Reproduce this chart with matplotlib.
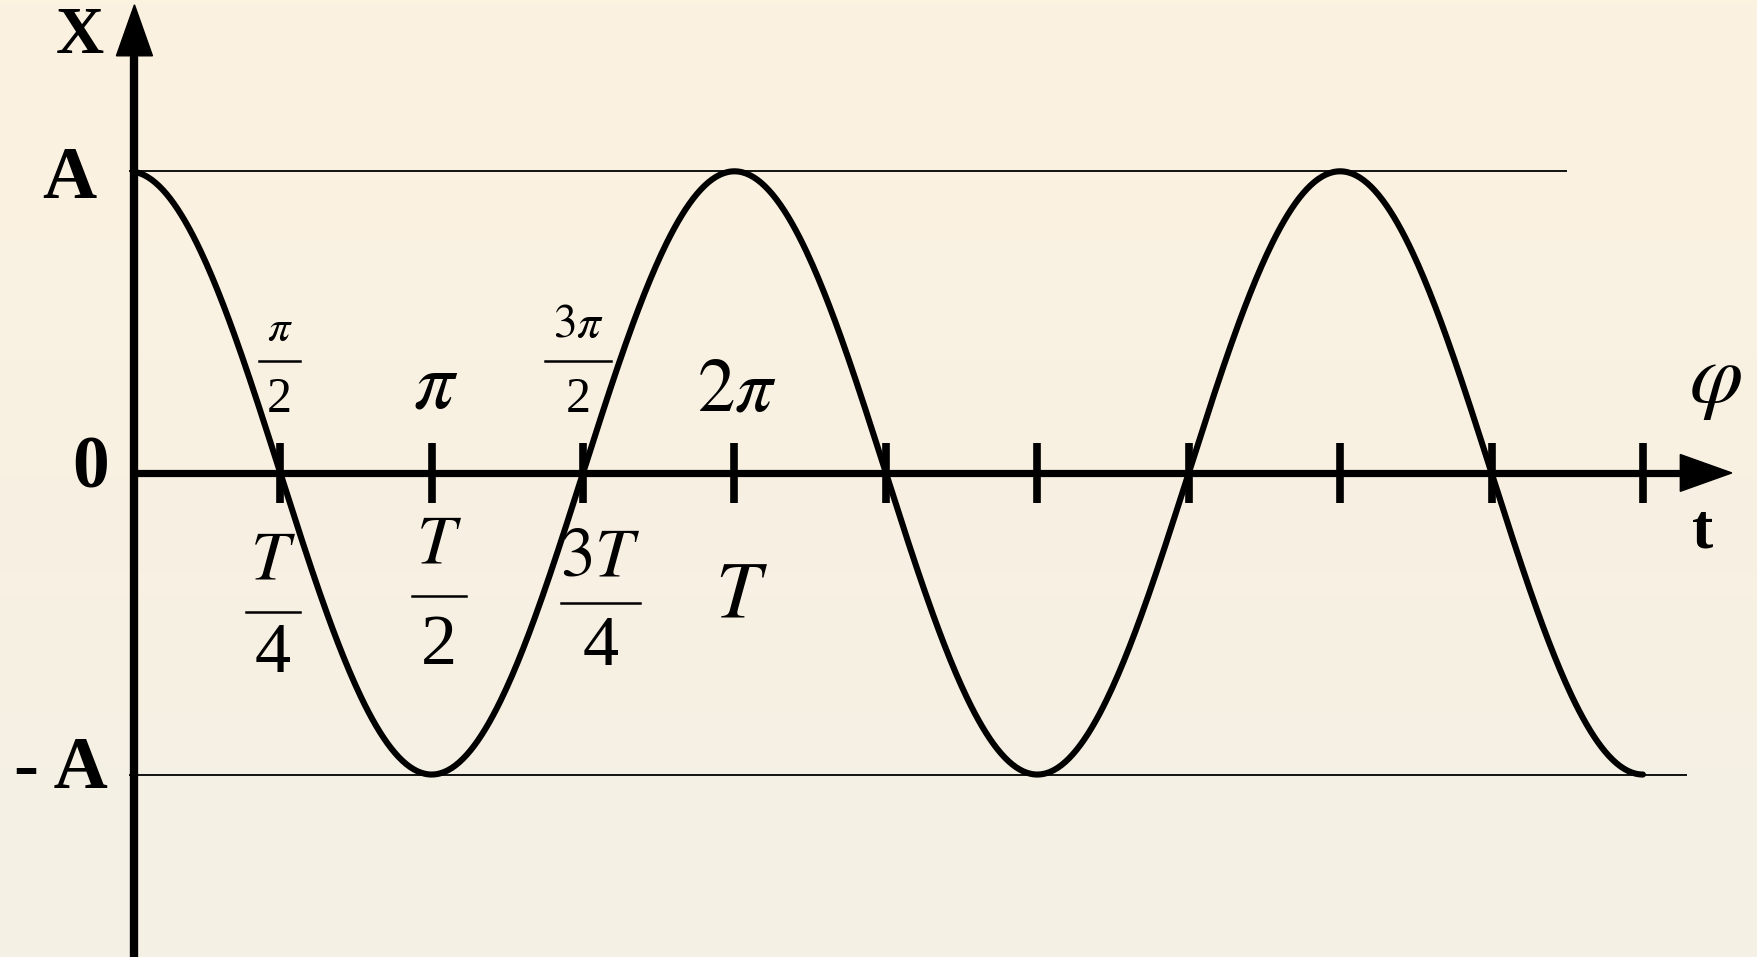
import numpy as np
import matplotlib.pyplot as plt
import matplotlib

matplotlib.rcParams['mathtext.fontset'] = 'stix'
matplotlib.rcParams['font.family'] = ['Liberation Serif', 'DejaVu Serif']

# data: x = A cos(phi), phase measured in quarter periods
amplitude = 1.0
n_quarters = 10                       # curve runs 2.5 periods
tick_quarters = np.arange(1, 11)      # tick marks on the t axis
phase_num = [r'$\pi$', r'$\pi$', r'$3\pi$', r'$2\pi$']
phase_den = ['2', None, '2', None]
time_num = [r'$T$', r'$T$', r'$3T$', r'$T$']
time_den = ['4', '2', '4', None]

# layout
x_lo, x_hi = -0.888, 10.723
y_lo, y_hi = -1.605, 1.568
shift = 0.037   # phase origin sits a hair left of the x axis line

fig = plt.figure(figsize=(17.58, 9.57), dpi=100)
ax = fig.add_axes([0, 0, 1, 1])
ax.set_xlim(x_lo, x_hi)
ax.set_ylim(y_lo, y_hi)
ax.axis('off')

# background gradient
grad = np.linspace(0, 1, 256).reshape(-1, 1)
top = np.array([252, 242, 224]) / 255
bot = np.array([244, 240, 229]) / 255
img = top + (bot - top) * grad[:, :, None]
ax.imshow(img, extent=[x_lo, x_hi, y_lo, y_hi], aspect='auto', zorder=0)

# amplitude guide lines
ax.plot([-0.03, 9.455], [amplitude, amplitude], color='#111111', lw=1.4, zorder=1)
ax.plot([-0.03, 10.25], [-amplitude, -amplitude], color='#111111', lw=1.4, zorder=1)

# axes
ax.plot([0, 0], [y_lo, 1.40], color='black', lw=6, solid_capstyle='butt', zorder=3)
ax.fill([-0.119, 0.119, 0], [1.383, 1.383, 1.552], color='black', zorder=3)
ax.plot([-0.02, 10.25], [0, 0], color='black', lw=5.2, solid_capstyle='butt', zorder=3)
ax.fill([10.21, 10.21, 10.55], [-0.061, 0.061, 0], color='black', zorder=3)
for q in tick_quarters:
    ax.plot([q - shift, q - shift], [-0.1, 0.1], color='black', lw=5.5,
            solid_capstyle='butt', zorder=3)

# the cosine curve
phase = np.linspace(shift, n_quarters, 800)
ax.plot(phase - shift, amplitude * np.cos(phase * np.pi / 2), color='black', lw=4.4,
        solid_capstyle='round', zorder=4)

# axis labels
ax.text(-0.36, 1.446, 'X', fontsize=48, fontweight='bold', ha='center', va='center')
ax.text(-0.433, 0.972, 'A', fontsize=54, fontweight='bold', ha='center', va='center')
ax.text(-0.175, -0.985, '- A', fontsize=54, fontweight='bold', ha='right', va='center')
ax.text(-0.29, 0.01, '0', fontsize=53, fontweight='bold', ha='center', va='center')
ax.text(10.36, -0.196, 't', fontsize=46, fontweight='bold', ha='center', va='center')
ax.text(10.44, 0.30, r'$\varphi$', fontsize=62, ha='center', va='center')


def frac(x, y_num, y_bar, y_den, num, den, size_num, size_den, half):
    ax.text(x, y_num, num, fontsize=size_num, ha='center', va='center')
    ax.text(x, y_den, den, fontsize=size_den, ha='center', va='center')
    ax.plot([x - half, x + half], [y_bar, y_bar], color='black', lw=1.8)


# phase labels above the axis
phase_x = [0.958, 1.99, 2.93, 3.98]
frac(phase_x[0], 0.474, 0.371, 0.242, phase_num[0], phase_den[0], 32, 36, 0.135)
ax.text(phase_x[1], 0.282, phase_num[1], fontsize=58, ha='center', va='center')
frac(phase_x[2], 0.487, 0.371, 0.242, phase_num[2], phase_den[2], 34, 36, 0.218)
ax.text(phase_x[3], 0.265, phase_num[3], fontsize=54, ha='center', va='center')

# time labels below the axis
time_x = [0.915, 2.01, 3.08, 4.01]
frac(time_x[0], -0.295, -0.461, -0.603, time_num[0], time_den[0], 50, 52, 0.178)
frac(time_x[1], -0.242, -0.408, -0.574, time_num[1], time_den[1], 50, 52, 0.178)
frac(time_x[2], -0.285, -0.431, -0.580, time_num[2], time_den[2], 50, 52, 0.26)
ax.text(time_x[3], -0.411, time_num[3], fontsize=58, ha='center', va='center')

fig.savefig('out.png', dpi=100)
